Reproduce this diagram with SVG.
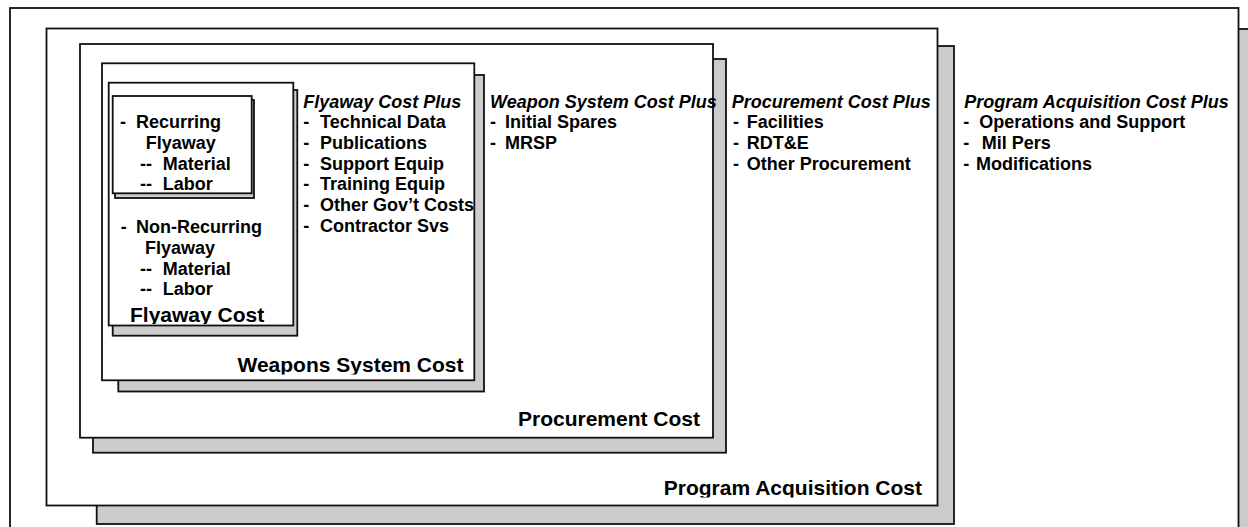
<svg xmlns="http://www.w3.org/2000/svg" width="1248" height="527" viewBox="0 0 1248 527">
<style>
.box{fill:#ffffff;stroke:#111111;stroke-width:1.8}
.shd{fill:#cccccc;stroke:#111111;stroke-width:1.8}
text{font-family:"Liberation Sans",Arial,sans-serif;font-weight:bold;fill:#000000}
.t{font-size:18px}
.ti{font-size:18px;font-style:italic}
.lbl{font-size:21px}
</style>
<defs>
<clipPath id="cFly"><rect x="100" y="290" width="200" height="34"/></clipPath>
<clipPath id="cWS"><rect x="200" y="340" width="280" height="34.5"/></clipPath>
<clipPath id="cPr"><rect x="480" y="395" width="230" height="34"/></clipPath>
<clipPath id="cPA"><rect x="620" y="465" width="310" height="32.5"/></clipPath>
</defs>
<rect width="1248" height="527" fill="#ffffff"/>

<g id="frame">
<rect class="shd" x="40" y="29" width="1240" height="600"/>
<rect class="box" x="10" y="8" width="1228.5" height="600"/>
</g>

<g id="program-acquisition">
<rect class="shd" x="96.7" y="46" width="857.3" height="478"/>
<rect class="box" x="46.5" y="28.5" width="891" height="477"/>
<text class="lbl" x="922" y="495" text-anchor="end" clip-path="url(#cPA)">Program Acquisition Cost</text>
<text class="ti" x="964.3" y="107.6">Program Acquisition Cost Plus</text>
<text class="t" y="128.3"><tspan x="963.3">-</tspan><tspan x="979.3">Operations and Support</tspan></text>
<text class="t" y="149"><tspan x="963.3">-</tspan><tspan x="981.7">Mil Pers</tspan></text>
<text class="t" y="169.7"><tspan x="963.3">-</tspan><tspan x="976">Modifications</tspan></text>
</g>

<g id="procurement">
<rect class="shd" x="93" y="59" width="633" height="393.7"/>
<rect class="box" x="80" y="44" width="633" height="393.7"/>
<text class="lbl" x="700" y="426" text-anchor="end" clip-path="url(#cPr)">Procurement Cost</text>
<text class="ti" x="731.7" y="107.6">Procurement Cost Plus</text>
<text class="t" y="128.3"><tspan x="733">-</tspan><tspan x="746.7">Facilities</tspan></text>
<text class="t" y="149"><tspan x="733">-</tspan><tspan x="746.7">RDT&amp;E</tspan></text>
<text class="t" y="169.7"><tspan x="733">-</tspan><tspan x="746.7">Other Procurement</tspan></text>
</g>

<g id="weapons-system">
<rect class="shd" x="118.3" y="75" width="365.7" height="316.5"/>
<rect class="box" x="102" y="63.3" width="372.3" height="317"/>
<text class="lbl" x="463.5" y="372" text-anchor="end" clip-path="url(#cWS)">Weapons System Cost</text>
<text class="ti" x="490" y="107.6">Weapon System Cost Plus</text>
<text class="t" y="128.3"><tspan x="490">-</tspan><tspan x="505">Initial Spares</tspan></text>
<text class="t" y="149"><tspan x="490">-</tspan><tspan x="505">MRSP</tspan></text>
</g>

<g id="flyaway">
<rect class="shd" x="112.7" y="90" width="184.6" height="245.7"/>
<rect class="box" x="108.7" y="82.7" width="184.6" height="242.8"/>
<text class="lbl" x="130" y="321.7" clip-path="url(#cFly)">Flyaway Cost</text>
<text class="t" y="233.3"><tspan x="120.7">-</tspan><tspan x="136">Non-Recurring</tspan></text>
<text class="t" x="145" y="254">Flyaway</text>
<text class="t" y="274.7"><tspan x="140">--</tspan><tspan x="162.7">Material</tspan></text>
<text class="t" y="295.4"><tspan x="140">--</tspan><tspan x="162.7">Labor</tspan></text>
<text class="ti" x="303.3" y="107.6">Flyaway Cost Plus</text>
<text class="t" y="128.3"><tspan x="303.3">-</tspan><tspan x="320">Technical Data</tspan></text>
<text class="t" y="149"><tspan x="303.3">-</tspan><tspan x="320">Publications</tspan></text>
<text class="t" y="169.7"><tspan x="303.3">-</tspan><tspan x="320">Support Equip</tspan></text>
<text class="t" y="190.4"><tspan x="303.3">-</tspan><tspan x="320">Training Equip</tspan></text>
<text class="t" y="211.1"><tspan x="303.3">-</tspan><tspan x="320">Other Gov’t Costs</tspan></text>
<text class="t" y="231.8"><tspan x="303.3">-</tspan><tspan x="320">Contractor Svs</tspan></text>
</g>

<g id="recurring">
<rect class="shd" x="115" y="100" width="139" height="98"/>
<rect class="box" x="112.7" y="96" width="139" height="97.3"/>
<text class="t" y="128.3"><tspan x="120">-</tspan><tspan x="136">Recurring</tspan></text>
<text class="t" x="145.7" y="149">Flyaway</text>
<text class="t" y="169.7"><tspan x="140">--</tspan><tspan x="162.7">Material</tspan></text>
<text class="t" y="190.4"><tspan x="140">--</tspan><tspan x="162.7">Labor</tspan></text>
</g>

<g id="connectors"></g>
</svg>
